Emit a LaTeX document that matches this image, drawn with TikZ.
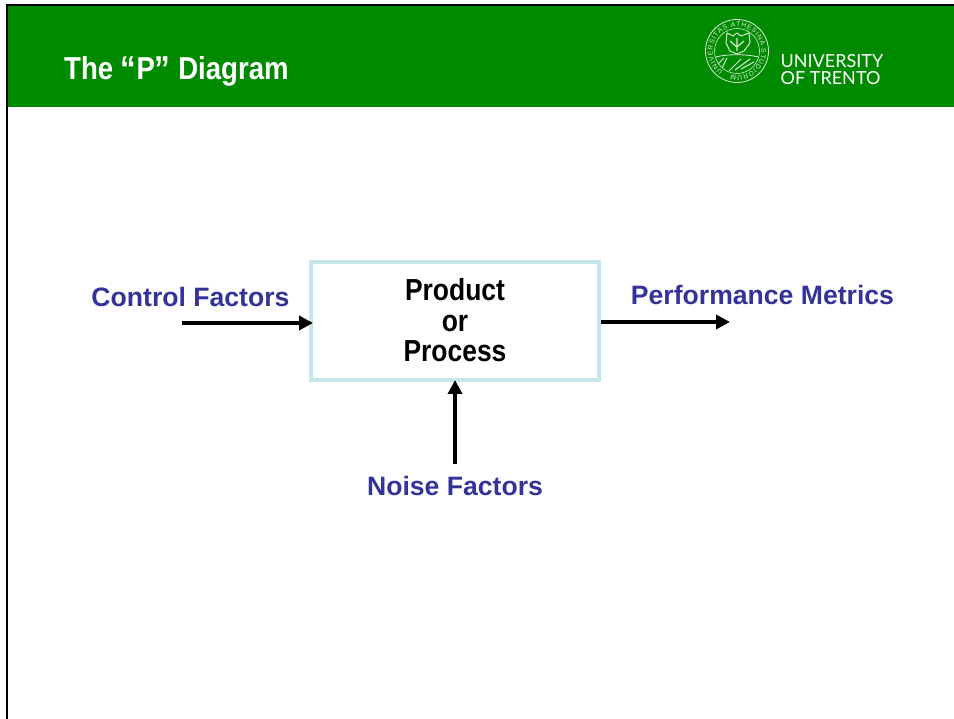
\documentclass[tikz,border=0pt]{standalone}
\usepackage{fontspec}
\setmainfont{Liberation Sans}
\newfontfamily\narrowfont[FakeStretch=0.87]{Liberation Sans}
\newfontfamily\logofont{Lato}
\usepackage{tikz}
\usetikzlibrary{positioning,arrows.meta,decorations.text}
\definecolor{bargreen}{RGB}{0,138,0}
\definecolor{boxblue}{RGB}{197,231,234}
\definecolor{labelblue}{RGB}{51,51,153}
\newcommand{\titlequote}[1]{{\fontsize{36}{32}\selectfont\raisebox{-1.5pt}{#1}}}
\tikzset{
	factor/.style={font=\fontsize{26.6}{30}\selectfont\bfseries,text=labelblue,inner sep=0pt},
	processbox/.style={draw=boxblue,line width=4pt,minimum width=288pt,minimum height=118pt,align=center,inner sep=0pt,font=\narrowfont\fontsize{30.4}{30}\selectfont\bfseries},
	flow/.style={-{Triangle[length=14pt,width=14pt]},line width=3.6pt},
	sealline/.style={white!85!bargreen,line join=round}
}
\begin{document}
\begin{tikzpicture}[x=1pt,y=1pt,node distance=100pt,on grid]
	\useasboundingbox (0,0) rectangle (954,719);
	\fill[white] (0,0) rectangle (954,719);
	% header
	\fill[bargreen] (7,612) rectangle (954,714);
	\draw[line width=2pt] (7,0) -- (7,714) -- (954,714);
	\node[anchor=west,text=white,inner sep=0pt,font=\narrowfont\fontsize{31.7}{32}\selectfont\bfseries] (title) at (64,647.5) {The \titlequote{“}P\titlequote{”} Diagram};
	% seal
	\coordinate (seal) at (737,668);
	\draw[sealline,line width=.8pt] (seal) circle (31.5pt);
	\draw[sealline,line width=.6pt] (seal) circle (22.5pt);
	\path[decorate,decoration={text along path,text align={fit to path},text={|\fontsize{6.8}{8}\selectfont\color{white!85!bargreen}|UNIVERSITAS ATHESINA STUDIORUM}}]
		(737,668) ++(-125:24.4pt) arc[start angle=-125,end angle=-465,radius=24.4pt];
	\draw[sealline,line width=1pt] (727,686) -- (733,683) -- (737,686) -- (741,683) -- (749,686) -- (750,676) -- (744,668) -- (737,665) -- (730,668) -- (726,676) -- cycle;
	\draw[sealline,line width=1.2pt] (730,678) -- (737,672) -- (744,678) (737,681) -- (737,668);
	\draw[sealline,line width=.8pt] (716,662) .. controls (726,665) and (748,665) .. (758,662);
	\draw[sealline,line width=1pt] (729,648) -- (741,660) (735,649) -- (750,660) (741,650) -- (754,657) (722,651) -- (727,661) (718,655) -- (724,661);
	\node[anchor=west,align=left,text=white,inner sep=0pt,font=\logofont\fontsize{18}{17.5}\selectfont] (logo) at (780.5,649.5) {UNIVERSITY\\OF TRENTO};
	% diagram
	\node[processbox] (process) at (455,398) {\raisebox{2.5pt}{Product}\\\raisebox{2pt}{or}\\\raisebox{2pt}{Process}};
	\node[factor] (control) [above left=24pt and 264.5pt of process] {Control Factors};
	\node[factor] (metrics) [above right=26pt and 307.5pt of process] {Performance Metrics};
	\node[factor] (noise) [below=165pt of process] {Noise Factors};
	\coordinate (control_in) at (182,396);
	\coordinate (metrics_out) at (730,397);
	\coordinate (noise_in) at (455,255);
	\draw[flow,shorten >=-4pt] (control_in) -- (process.west |- control_in);
	\draw[flow] (process.east |- metrics_out) -- (metrics_out);
	\draw[flow,shorten >=-2pt] (noise_in) -- (process.south);
\end{tikzpicture}
\end{document}
